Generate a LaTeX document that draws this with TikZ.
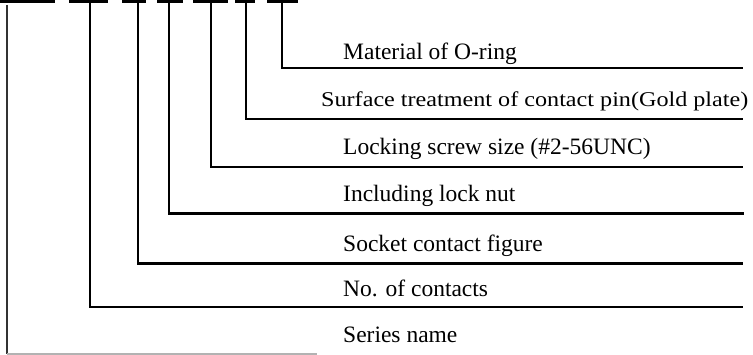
\documentclass[tikz,border=0pt]{standalone}
\usepackage{fontspec}
\setmainfont{Liberation Serif}
\begin{document}
\begin{tikzpicture}[x=1pt,y=-1pt,
  bar/.style={line width=2.6pt,black},
  leader/.style={line width=2.2pt,black,line cap=rect},
  lastleader/.style={line width=1.2pt,black!30},
  lbl/.style={anchor=base west,inner sep=0pt,font=\fontsize{23.5}{27}\selectfont},
  lblwide/.style={anchor=base west,inner sep=0pt,font=\fontsize{21}{25}\selectfont}]
\useasboundingbox (0,0) rectangle (753,355);
% code bars
\foreach \i/\a/\b in {1/0/55,2/69/108,3/122/146,4/157/183,5/193/228,6/235/255,7/267/298}{
  \coordinate (b\i l) at (\a,1.3);
  \coordinate (b\i r) at (\b,1.3);
  \draw[bar] (b\i l) -- (b\i r);
}
% connector start points (below bars)
\coordinate (s7) at (282,4);
\coordinate (s6) at (246,4);
\coordinate (s5) at (211,4);
\coordinate (s4) at (169,4);
\coordinate (s3) at (138,4);
\coordinate (s2) at (90,4);
\coordinate (s1) at (7,5);
% corners
\coordinate (c7) at (282,68);
\coordinate (c6) at (246,119);
\coordinate (c5) at (211,167);
\coordinate (c4) at (169,213.5);
\coordinate (c3) at (138,263.5);
\coordinate (c2) at (90,307);
\coordinate (c1) at (7,354);
% ends
\coordinate (e7) at (742,68);
\coordinate (e6) at (742,119);
\coordinate (e5) at (742,167);
\coordinate (e4) at (743,213.5);
\coordinate (e3) at (742,263.5);
\coordinate (e2) at (742,307);
\coordinate (e1) at (317,354);
\draw[leader] (s7) -- (c7) -- (e7);
\draw[leader] (s6) -- (c6) -- (e6);
\draw[leader] (s5) -- (c5) -- (e5);
\draw[leader] (s4) -- (c4) -- (e4);
\draw[leader] (s3) -- (c3) -- (e3);
\draw[leader] (s2) -- (c2) -- (e2);
\draw[line width=2.2pt,black!80] (s1) -- (c1);
\draw[lastleader] (c1) -- (e1);
% labels
\node[lbl] (t7) at (343,60) {Material of O-ring};
\node[lblwide] (t6) at (321,107) {\scalebox{1.15}[1]{Surface treatment of contact pin(Gold plate)}};
\node[lbl] (t5) at (343,155) {Locking screw size (\#2-56UNC)};
\node[lbl] (t4) at (343,202) {Including lock nut};
\node[lbl] (t3) at (343,252) {Socket contact figure};
\node[lbl] (t2) at (343,297) {No. of contacts};
\node[lbl] (t1) at (343,343) {Series name};
\end{tikzpicture}
\end{document}
